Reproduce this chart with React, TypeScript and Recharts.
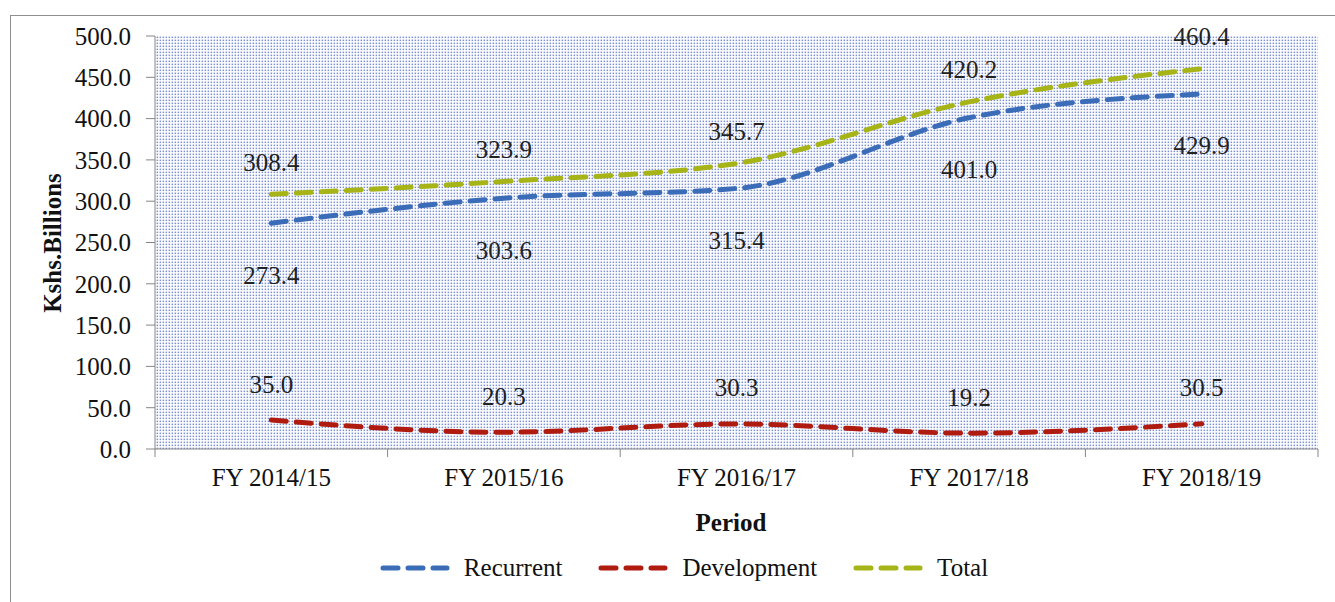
import { LineChart, Line, XAxis, YAxis, CartesianGrid, Legend } from 'recharts';

const categories = ['FY 2014/15', 'FY 2015/16', 'FY 2016/17', 'FY 2017/18', 'FY 2018/19'];
const recurrent = [273.4, 303.6, 315.4, 401.0, 429.9];
const development = [35.0, 20.3, 30.3, 19.2, 30.5];
const total = [308.4, 323.9, 345.7, 420.2, 460.4];
const yTicks = [0, 50, 100, 150, 200, 250, 300, 350, 400, 450, 500];

const chartData = categories.map((period, i) => ({
  period,
  Recurrent: recurrent[i],
  Development: development[i],
  Total: total[i],
}));

const W = 1335;
const H = 602;
const margin = { top: 36, right: 17, left: 0, bottom: 14 };
const yAxisWidth = 155;
const plotBottom = 449;
const band = (W - margin.right - yAxisWidth) / categories.length;

const FONT = '"Liberation Serif", "Times New Roman", serif';
const FS = 25;
const series = [
  { key: 'Recurrent', color: '#3b6cb7', dy: 52 },
  { key: 'Development', color: '#b01b10', dy: -36 },
  { key: 'Total', color: '#a6b418', dy: -32 },
];

const XTick = (props: any) => {
  const { x, payload, index } = props;
  const last = index === categories.length - 1;
  return (
    <g>
      <line x1={x - band / 2} x2={x - band / 2} y1={plotBottom} y2={plotBottom + 8} stroke='#868686' />
      {last && (
        <line x1={x + band / 2} x2={x + band / 2} y1={plotBottom} y2={plotBottom + 8} stroke='#868686' />
      )}
      <text x={x} y={plotBottom + 28} textAnchor='middle' dominantBaseline='central' fontSize={FS} fontFamily={FONT} fill='#111'>
        {payload.value}
      </text>
    </g>
  );
};

const makeLabel = (dy: number) => (props: any) => {
  const { x, y, value } = props;
  return (
    <text x={x} y={y + dy} textAnchor='middle' dominantBaseline='central' fontSize={FS} fontFamily={FONT} fill='#222'>
      {Number(value).toFixed(1)}
    </text>
  );
};

const LegendContent = () => (
  <div style={{ display: 'flex', justifyContent: 'center', alignItems: 'center', height: 40, paddingLeft: 50, fontFamily: FONT, fontSize: FS, color: '#111' }}>
    {series.map((s, i) => (
      <div key={s.key} style={{ display: 'flex', alignItems: 'center', marginLeft: i === 0 ? 0 : 36 }}>
        <svg width={70} height={10} style={{ marginRight: 14 }}>
          <line x1={3} x2={67} y1={5} y2={5} stroke={s.color} strokeWidth={5} strokeDasharray='15 10' strokeLinecap='round' />
        </svg>
        <span>{s.key}</span>
      </div>
    ))}
  </div>
);

const App = () => {
  return (
    <div style={{ position: 'absolute', left: 0, top: 0, width: W, height: H, overflow: 'hidden', background: '#fff' }}>
      <div style={{ position: 'absolute', left: 10, top: 15, width: 1400, height: 700, border: '1.5px solid #8f8f8f' }} />
      <div style={{ position: 'absolute', left: 0, top: 0 }}>
        <LineChart width={W} height={H} data={chartData} margin={margin}>
          <defs>
            <pattern id='dots' width={3} height={3} patternUnits='userSpaceOnUse'>
              <rect width={3} height={3} fill='#ffffff' />
              <rect x={0.6} y={0.6} width={1.5} height={1.5} fill='#7c8fd0' />
            </pattern>
          </defs>
          <CartesianGrid horizontal={false} vertical={false} fill='url(#dots)' />
          <XAxis
            dataKey='period'
            height={99}
            stroke='#868686'
            tickLine={false}
            tick={<XTick />}
            interval={0}
            padding={{ left: band / 2, right: band / 2 }}
            label={{
              content: () => (
                <text x={731} y={522} textAnchor='middle' dominantBaseline='central' fontSize={FS} fontWeight='bold' fontFamily={FONT} fill='#111'>
                  Period
                </text>
              ),
            }}
          />
          <YAxis
            width={yAxisWidth}
            domain={[0, 500]}
            ticks={yTicks}
            interval={0}
            stroke='#868686'
            tickSize={9}
            tickMargin={15}
            tickFormatter={(v: number) => v.toFixed(1)}
            tick={{ fill: '#111', fontSize: FS, fontFamily: FONT }}
            label={{
              content: () => (
                <text x={52} y={243} transform='rotate(-90 52 243)' textAnchor='middle' dominantBaseline='central' fontSize={FS} fontWeight='bold' fontFamily={FONT} fill='#111'>
                  Kshs.Billions
                </text>
              ),
            }}
          />
          <Legend verticalAlign='bottom' content={<LegendContent />} />
          {series.map((s) => (
            <Line
              key={s.key}
              dataKey={s.key}
              type='monotone'
              stroke={s.color}
              strokeWidth={5}
              strokeDasharray='15 10'
              strokeLinecap='round'
              dot={false}
              activeDot={false}
              label={makeLabel(s.dy)}
              isAnimationActive={false}
            />
          ))}
        </LineChart>
      </div>
    </div>
  );
};

export default App;
